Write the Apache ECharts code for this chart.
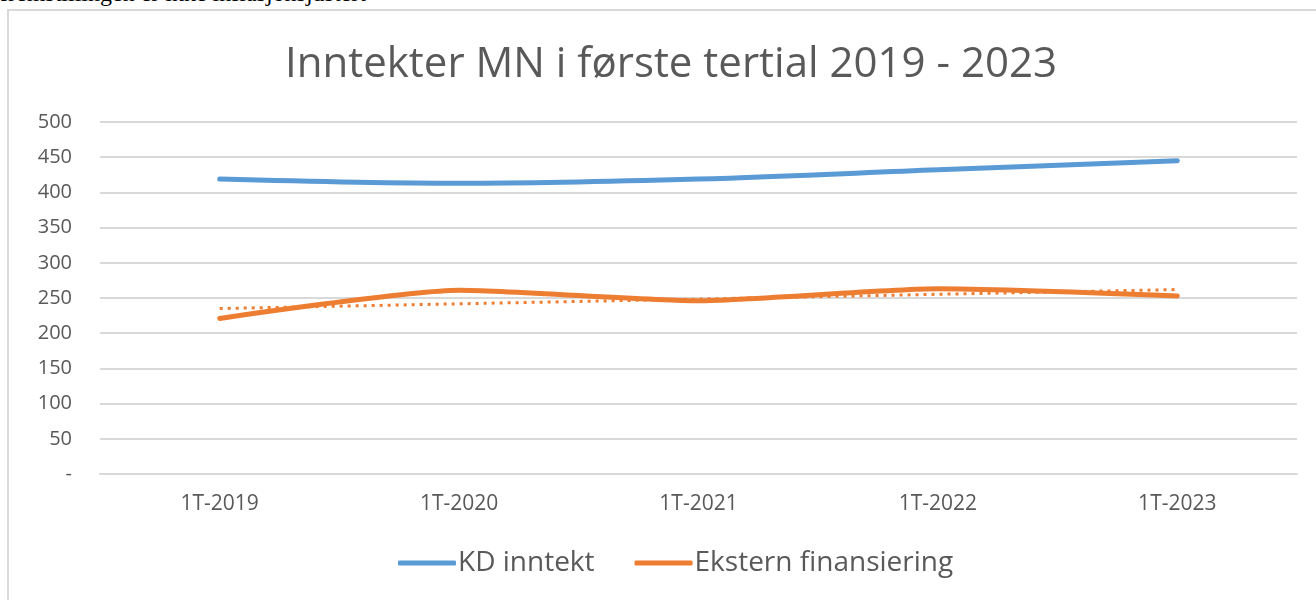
<!DOCTYPE html>
<html>
<head>
<meta charset="utf-8">
<script src="https://cdn.jsdelivr.net/npm/echarts@6/dist/echarts.min.js"></script>
<style>
  html, body { margin: 0; padding: 0; background: #fff; overflow: hidden; }
  #note { position: absolute; left: 0; top: -19px; font: 24px "Liberation Serif", "DejaVu Serif", serif; color: #000; line-height: 1; white-space: nowrap; }
  #frame { position: absolute; left: 7px; top: 9px; width: 1320px; height: 600px; border: 2px solid #d9d9d9; box-sizing: border-box; }
  #chart { position: absolute; left: 0; top: 0; width: 1316px; height: 600px; }
</style>
</head>
<body>
<div id="note">fremstillingen er ikke inflasjonsjustert</div>
<div id="frame"></div>
<div id="chart"></div>
<script>
// data
const periods = ['1T-2019', '1T-2020', '1T-2021', '1T-2022', '1T-2023']
const kdInntekt = [419, 413, 419, 432, 445]
const eksternFin = [221, 261, 246, 263, 253]
// linear trendline of Ekstern finansiering, only its two ends are drawn
const eksternTrend = [235, null, null, null, 262]
const yTicks = { min: 0, max: 500, step: 50 }

const blue = '#5b9bd5'
const orange = '#ed7d31'
const grey = '#595959'
const font = '"Open Sans", "Noto Sans", sans-serif'

const chart = echarts.init(document.getElementById('chart'))
chart.setOption({
  animation: false,
  title: {
    text: 'Inntekter MN i første tertial 2019 - 2023',
    left: 280,
    top: 39,
    textStyle: { fontFamily: font, fontSize: 42, fontWeight: 'normal', color: grey }
  },
  grid: { left: 100, right: 19, top: 122, bottom: 126 },
  legend: {
    data: ['KD inntekt', 'Ekstern finansiering'],
    bottom: 18,
    left: 393,
    icon: 'roundRect',
    itemWidth: 58,
    itemHeight: 5,
    itemGap: 40,
    textStyle: { fontFamily: font, fontSize: 28, color: grey, padding: [0, 0, 0, -3] }
  },
  xAxis: {
    type: 'category',
    data: periods,
    boundaryGap: true,
    axisLine: { show: true, lineStyle: { color: '#d9d9d9', width: 2 } },
    axisTick: { show: false },
    axisLabel: { fontFamily: font, fontSize: 21, color: grey, margin: 20 }
  },
  yAxis: {
    type: 'value',
    min: yTicks.min,
    max: yTicks.max,
    interval: yTicks.step,
    axisLine: { show: false },
    axisTick: { show: false },
    splitLine: { lineStyle: { color: '#d9d9d9', width: 2 } },
    axisLabel: {
      fontFamily: font, fontSize: 20, color: grey, margin: 28,
      formatter: function (v) { return v === 0 ? '-' : String(v) }
    }
  },
  series: [
    {
      name: 'KD inntekt',
      type: 'line',
      data: kdInntekt,
      smooth: 0.35,
      symbol: 'none',
      lineStyle: { color: blue, width: 5, cap: 'round' },
      itemStyle: { color: blue }
    },
    {
      name: 'trend',
      type: 'line',
      data: eksternTrend,
      connectNulls: true,
      symbol: 'none',
      lineStyle: { color: orange, width: 3, type: [3, 5] },
      itemStyle: { color: orange },
      z: 1
    },
    {
      name: 'Ekstern finansiering',
      type: 'line',
      data: eksternFin,
      smooth: 0.2,
      symbol: 'none',
      lineStyle: { color: orange, width: 5, cap: 'round' },
      itemStyle: { color: orange },
      z: 3
    }
  ]
})
</script>
</body>
</html>
